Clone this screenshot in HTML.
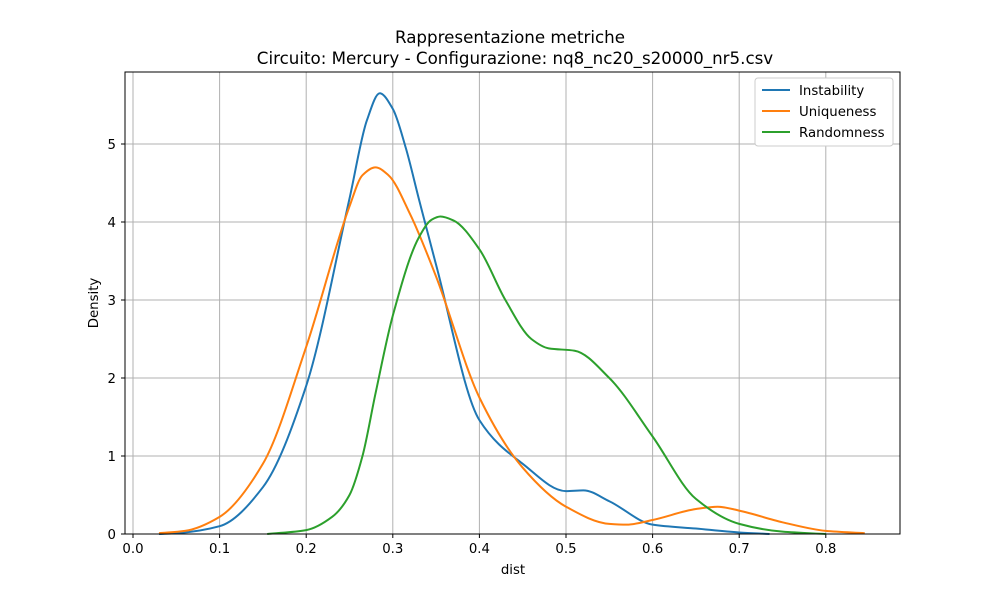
<!DOCTYPE html>
<html><head><meta charset="utf-8">
<style>
body{margin:0;background:#fff;}
svg text{font-family:"DejaVu Sans","Liberation Sans",sans-serif;fill:#000;}
</style></head>
<body>
<svg id="chart" width="1000" height="600">
<text x="510" y="43" font-size="16.7" text-anchor="middle">Rappresentazione metriche</text>
<text x="515" y="64" font-size="16.7" text-anchor="middle">Circuito: Mercury - Configurazione: nq8_nc20_s20000_nr5.csv</text>
<g id="grid"></g><g id="ticks"></g><g id="series"></g>
<rect x="125" y="72" width="775" height="462" fill="none" stroke="#000" stroke-width="1"/>
<text x="513" y="574" font-size="13.3" text-anchor="middle">dist</text>
<text x="98" y="303" font-size="13.3" text-anchor="middle" transform="rotate(-90 98 303)">Density</text>
<g>
<rect x="755" y="78" width="138" height="68" fill="#fff" stroke="#ccc" rx="3"/>
<line x1="762" y1="90" x2="790" y2="90" stroke="#1f77b4" stroke-width="2"/>
<text x="799" y="95" font-size="13.3">Instability</text>
<line x1="762" y1="111" x2="790" y2="111" stroke="#ff7f0e" stroke-width="2"/>
<text x="799" y="116" font-size="13.3">Uniqueness</text>
<line x1="762" y1="132" x2="790" y2="132" stroke="#2ca02c" stroke-width="2"/>
<text x="799" y="137" font-size="13.3">Randomness</text>
</g>
</svg>
<script>
const xTicks=[0.0,0.1,0.2,0.3,0.4,0.5,0.6,0.7,0.8];
const yTicks=[0,1,2,3,4,5];
const instX=[0.03,0.05,0.1,0.15,0.2,0.25,0.27,0.285,0.3,0.315,0.33,0.35,0.4,0.45,0.5,0.52,0.55,0.6,0.65,0.7,0.735];
const instY=[0.0,0.01,0.1,0.6,1.9,4.3,5.3,5.65,5.45,4.95,4.3,3.45,1.46,0.9,0.55,0.56,0.42,0.12,0.07,0.02,0.0];
const uniqX=[0.03,0.06,0.1,0.15,0.2,0.25,0.265,0.28,0.295,0.32,0.35,0.4,0.45,0.5,0.55,0.57,0.6,0.65,0.675,0.7,0.75,0.8,0.845];
const uniqY=[0.01,0.04,0.22,0.9,2.4,4.2,4.6,4.7,4.6,4.1,3.3,1.75,0.85,0.35,0.13,0.12,0.18,0.32,0.35,0.3,0.15,0.04,0.01];
const randX=[0.155,0.2,0.23,0.25,0.265,0.28,0.3,0.33,0.345,0.355,0.37,0.4,0.43,0.46,0.48,0.51,0.55,0.6,0.65,0.7,0.75,0.8];
const randY=[0.0,0.05,0.22,0.5,1.0,1.8,2.8,3.8,4.03,4.07,4.02,3.65,3.0,2.5,2.38,2.35,2.0,1.25,0.45,0.13,0.03,0.0];
const NS='http://www.w3.org/2000/svg';
const sx=v=>133+v*866, sy=v=>534-v*78;
const grid=document.getElementById('grid'), ticks=document.getElementById('ticks'), ser=document.getElementById('series');
function mk(tag,attrs,parent){const e=document.createElementNS(NS,tag);for(const k in attrs)e.setAttribute(k,attrs[k]);parent.appendChild(e);return e;}
xTicks.forEach(t=>{
 const l=mk('line',{x1:sx(t),x2:sx(t),y1:72,y2:534,stroke:'#b0b0b0','stroke-width':1},grid);
 
 
 mk('line',{x1:sx(t),x2:sx(t),y1:534,y2:538,stroke:'#000'},ticks);
 const tx=mk('text',{x:sx(t),y:553,'font-size':13.3,'text-anchor':'middle'},ticks);tx.textContent=t.toFixed(1);
 
 
});
yTicks.forEach(t=>{
 const l=mk('line',{x1:125,x2:900,y1:sy(t),y2:sy(t),stroke:'#b0b0b0','stroke-width':1},grid);
 
 
 mk('line',{x1:121,x2:125,y1:sy(t),y2:sy(t),stroke:'#000'},ticks);
 const tx=mk('text',{x:116,y:sy(t)+5,'font-size':13.3,'text-anchor':'end'},ticks);tx.textContent=t;
 
 
});
function pathD(xs,ys){
 const n=xs.length, X=xs.map(sx), Y=ys.map(sy);
 const d=[],m=[];
 for(let i=0;i<n-1;i++)d.push((Y[i+1]-Y[i])/(X[i+1]-X[i]));
 m[0]=d[0];m[n-1]=d[n-2];
 for(let i=1;i<n-1;i++){
  if(d[i-1]*d[i]<=0)m[i]=0;
  else{const w1=2*(X[i+1]-X[i])+(X[i]-X[i-1]),w2=(X[i+1]-X[i])+2*(X[i]-X[i-1]);m[i]=(w1+w2)/(w1/d[i-1]+w2/d[i]);}
 }
 let s='M'+X[0]+','+Y[0];
 for(let i=0;i<n-1;i++){
  const h=(X[i+1]-X[i])/3;
  s+=` C${X[i]+h},${Y[i]+m[i]*h} ${X[i+1]-h},${Y[i+1]-m[i+1]*h} ${X[i+1]},${Y[i+1]}`;
 }
 return s;
}
const a=mk('path',{d:pathD(instX,instY),fill:'none',stroke:'#1f77b4','stroke-width':2},ser);


const b=mk('path',{d:pathD(uniqX,uniqY),fill:'none',stroke:'#ff7f0e','stroke-width':2},ser);


const c=mk('path',{d:pathD(randX,randY),fill:'none',stroke:'#2ca02c','stroke-width':2},ser);


</script>
</body></html>
